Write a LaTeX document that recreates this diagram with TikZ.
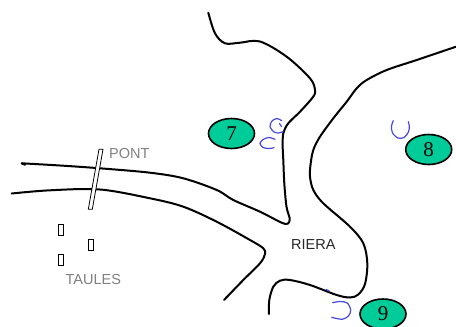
\documentclass[tikz,border=0pt]{standalone}
\usepackage{fontspec}
\setmainfont{Liberation Serif}
\setsansfont{Liberation Sans}
\usetikzlibrary{shapes,calc}
\definecolor{spot}{RGB}{0,204,153}
\definecolor{ink}{RGB}{72,72,224}
\tikzstyle{bank}=[line width=2pt, line cap=round, line join=round]
\tikzstyle{hook}=[draw=ink, line width=1.2pt, line cap=round]
\tikzstyle{spotE}=[ellipse, fill=spot, draw, minimum width=46pt, minimum height=30pt, line width=1.6pt, inner sep=0pt, font=\fontsize{21}{21}\selectfont]
\tikzstyle{placeT}=[inner sep=0pt, font=\sffamily\fontsize{14.5}{15}\selectfont]
\tikzstyle{taula}=[draw, rectangle, minimum width=5pt, minimum height=11pt, inner sep=0pt, line width=0.8pt]

\begin{document}
\begin{tikzpicture}[x=1pt, y=-1pt]
        \useasboundingbox (0,0) rectangle (456,327);
        % riverbanks
        \draw[bank] plot[smooth, tension=0.55] coordinates {(208.3,12.7) (215,33.3) (225,43.3) (240,42.7) (260,41.5) (286.7,56.7) (310,78.3) (315,90) (313,97) (300,111.7) (288.3,123.3) (283.3,133.3) (282.7,146.7) (283.3,160) (284.3,183.3) (286.5,206.7) (289.7,218.5) (288,223.5) (281.7,222.7) (260,211.7) (233.3,200) (216.7,190) (183.3,178.3) (150,172.7) (100,168.3) (60,165.5) (21.7,163.3)};
        \draw[bank] (21.7,163.3) -- (25,164.8);
        \draw[bank] plot[smooth, tension=0.55] coordinates {(11.7,193.5) (50,190.3) (100,189.5) (150,198.3) (183.3,206.7) (216.7,221.7) (250,240) (263.3,248.3) (265,254) (260,263.3) (243.3,280) (224,300)};
        \draw[bank] plot[smooth, tension=0.55] coordinates {(456,46.7) (416.7,60) (386.7,70) (366.7,80) (356.7,88.3) (346.7,101.7) (333.3,118.3) (320,136.7) (313.3,150) (310.5,165) (310,176.7) (313.3,190) (323.3,203.3) (350,226.7) (363.3,243.3) (367.3,263.3) (365,284) (358.3,294.5) (350,297.5) (336.7,295) (310,285) (290,280) (280,280.7) (273.3,286.7) (269.3,300) (269,314)};
        % bridge
        \draw[fill=white, line width=0.8pt] (99,149.3) -- (103,149.3) -- (92.3,209.3) -- (88.3,209.3) -- cycle;
        \node(pont) [placeT, text=gray, anchor=west] at (109,153.3){PONT};
        % tables
        \node(t1) [taula] at (60.8,230){};
        \node(t2) [taula] at (91.3,245.2){};
        \node(t3) [taula] at (60.8,260){};
        \node(taules) [placeT, text=gray] at (93.3,279.2){TAULES};
        \node(riera) [placeT, text=black!85] at (313.3,244.7){RIERA};
        % spots
        \node(7) [spotE] at (231.5,133.5){7};
        \node(8) [spotE] at (428.7,149.5){8};
        \node(9) [spotE] at (383,314){9};
        % hand marks
        \draw[hook] plot[smooth] coordinates {(281.7,120.7) (277,118.5) (272,121) (270,126.7) (274,132) (279,133) (283,131.5)};
        \draw[hook] (279.5,123.5) -- (281.5,126.5);
        \draw[hook] plot[smooth] coordinates {(275,139.3) (269,137.5) (263,139.5) (260,143.5) (263,147.5) (269,148.5) (274,147.7)};
        \draw[hook] plot[smooth] coordinates {(393.3,120.7) (391.5,126) (392.5,133) (398,138) (404,137.5) (408.5,132) (409.3,126) (408.3,121.7)};
        \draw[hook] (326,289.3) -- (329.3,291);
        \draw[hook] plot[smooth] coordinates {(332.7,302.7) (340,301.5) (347.3,303) (350.7,310) (348.5,316) (342,319.3) (331.7,317.3)};
\end{tikzpicture}
\end{document}
